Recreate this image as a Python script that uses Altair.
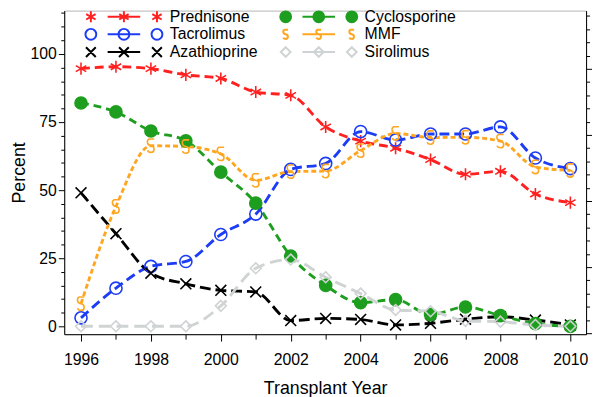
import altair as alt
import pandas as pd

# ---------------- data ----------------
years = list(range(1996, 2011))
prednisone   = [94.6, 95.3, 94.6, 92.3, 91.0, 86.0, 84.8, 73.2, 68.0, 65.4, 61.2, 55.8, 56.9, 48.6, 45.4]
tacrolimus   = [3.1, 14.0, 22.0, 23.8, 33.7, 41.2, 57.6, 59.8, 71.5, 68.4, 70.6, 70.6, 73.2, 61.8, 57.9]
azathioprine = [49.0, 34.0, 19.5, 15.6, 13.2, 12.6, 2.1, 2.9, 2.5, 0.5, 1.1, 2.6, 3.5, 2.3, 0.5]
cyclosporine = [82.0, 78.7, 71.7, 68.1, 56.6, 45.2, 25.8, 15.0, 8.7, 9.8, 4.3, 7.1, 3.9, 1.0, 0.0]
mmf          = [8.3, 44.0, 66.3, 66.0, 63.3, 53.6, 56.8, 57.0, 64.5, 70.8, 69.3, 69.4, 68.0, 58.5, 57.2]
sirolimus    = [0.0, 0.0, 0.0, 0.0, 7.5, 21.3, 24.5, 18.0, 12.0, 6.0, 5.5, 2.0, 1.7, 0.5, 0.0]

series = ["Prednisone", "Tacrolimus", "Azathioprine", "Cyclosporine", "MMF", "Sirolimus"]
values = {
    "Prednisone": prednisone, "Cyclosporine": cyclosporine, "Tacrolimus": tacrolimus,
    "MMF": mmf, "Azathioprine": azathioprine, "Sirolimus": sirolimus,
}
color_of = {"Prednisone": "#ff2020", "Tacrolimus": "#1c3cf5", "Azathioprine": "#000000",
            "Cyclosporine": "#1e9e1e", "MMF": "#ffa620", "Sirolimus": "#cfd3d3"}
dash_of = {"Prednisone": [9, 5], "Tacrolimus": [10, 5], "Azathioprine": [11, 5],
           "Cyclosporine": [8, 5], "MMF": [5, 3], "Sirolimus": [12, 6]}
colors = [color_of[s] for s in series]
fills = ["#1e9e1e" if s == "Cyclosporine" else "transparent" for s in series]
dashes = [dash_of[s] for s in series]

rows = []
for name in series:
    for yr, v in zip(years, values[name]):
        rows.append({"year": yr, "pct": v, "drug": name})
df = pd.DataFrame(rows)

# ---------------- marker shapes ----------------
def fmt(v):
    s = f"{v:.3f}".rstrip("0").rstrip(".")
    return s if s not in ("", "-0") else "0"

def tpath(cmds, s=1.0, dx=0.0, dy=0.0):
    out = []
    for c, pts in cmds:
        if c == "Z":
            out.append("Z")
            continue
        out.append(c + " ".join(f"{fmt(x*s+dx)},{fmt(y*s+dy)}" for x, y in pts))
    return "".join(out)

AST = [("M", [(0, -1)]), ("L", [(0, 1)]), ("M", [(-0.866, -0.5)]), ("L", [(0.866, 0.5)]),
       ("M", [(-0.866, 0.5)]), ("L", [(0.866, -0.5)])]
CROSS = [("M", [(-0.9, -0.9)]), ("L", [(0.9, 0.9)]), ("M", [(-0.9, 0.9)]), ("L", [(0.9, -0.9)])]
DIAM = [("M", [(0, -0.9)]), ("L", [(0.9, 0)]), ("L", [(0, 0.9)]), ("L", [(-0.9, 0)]), ("Z", [])]
SSH = [("M", [(0.55, -1.1)]), ("L", [(-0.2, -1.1)]),
       ("C", [(-0.75, -1.1), (-0.75, -0.1), (0, 0)]),
       ("C", [(0.7, 0.1), (0.7, 1.1), (0, 1.1)]),
       ("C", [(-0.3, 1.1), (-0.5, 0.95), (-0.55, 0.75)])]

def circ(r, cx=0.0, cy=0.0):
    return (f"M{fmt(cx-r)},{fmt(cy)}A{fmt(r)},{fmt(r)} 0 1,1 {fmt(cx+r)},{fmt(cy)}"
            f"A{fmt(r)},{fmt(r)} 0 1,1 {fmt(cx-r)},{fmt(cy)}Z")

def glyph(kind, s, dx):
    if kind == "circle":
        return circ(s, dx, 0)
    return tpath(kind, s, dx, 0)

marker_kind = {"Prednisone": AST, "Cyclosporine": "circle", "Tacrolimus": "circle",
               "MMF": SSH, "Azathioprine": CROSS, "Sirolimus": DIAM}

plot_shapes = []
legend_shapes = []
for name in series:
    k = marker_kind[name]
    plot_shapes.append("circle" if k == "circle" else tpath(k))
    ls = 0.85 if k is SSH else 1.1
    legend_shapes.append(glyph(k, ls, 0) + "M3.4,0L10,0" + glyph(k, ls, 6.7) + glyph(k, ls, 13.4))

FONT = "Liberation Sans, Arial, sans-serif"

xdom = [1995.52, 2010.45]
ydom = [-2.9, 115.9]

x_axis = alt.Axis(
    values=years, format="d",
    labelExpr="datum.value % 2 == 0 ? datum.label : ''",
    tickSize={"condition": {"test": "datum.value % 2 == 0", "value": 7}, "value": 5},
    grid=False, title="Transplant Year", labelPadding=11, titlePadding=12,
)
y_axis = alt.Axis(
    values=list(range(0, 116, 5)),
    labelExpr="datum.value % 25 == 0 ? datum.label : ''",
    tickSize={"condition": {"test": "datum.value % 25 == 0", "value": 6}, "value": 3.5},
    grid=False, title="Percent", labelPadding=2, titlePadding=2,
)

xenc = alt.X("year:Q", scale=alt.Scale(domain=xdom, nice=False, zero=False), axis=x_axis)
yscale = alt.Scale(domain=ydom, nice=False, zero=False)

lines = alt.Chart(df).mark_line(strokeWidth=2.9, interpolate="monotone").encode(
    x=xenc,
    y=alt.Y("pct:Q", scale=yscale, axis=y_axis),
    color=alt.Color("drug:N", scale=alt.Scale(domain=series, range=colors), legend=None),
    strokeDash=alt.StrokeDash("drug:N", scale=alt.Scale(domain=series, range=dashes), legend=None),
    detail="drug:N",
)

points = alt.Chart(df).mark_point(filled=False, opacity=1, size=150, strokeWidth=1.6).encode(
    x=xenc,
    y=alt.Y("pct:Q", scale=yscale, axis=None),
    color=alt.Color("drug:N", scale=alt.Scale(domain=series, range=colors), legend=None),
    fill=alt.Fill("drug:N", scale=alt.Scale(domain=series, range=fills), legend=None),
    shape=alt.Shape("drug:N", scale=alt.Scale(domain=series, range=plot_shapes), legend=None),
)

leg = alt.Legend(
    title=None, orient="none", legendX=19, legendY=-2, columns=2,
    symbolSize=100, symbolStrokeWidth=2, labelFontSize=16, labelFont=FONT, labelColor="black",
    labelOffset=72, columnPadding=18.5, rowPadding=-4.6, padding=0, labelLimit=300,
)

legend_layer = alt.Chart(df).transform_filter("false").mark_point(
    filled=False, opacity=1, strokeWidth=2
).encode(
    color=alt.Color("drug:N", scale=alt.Scale(domain=series, range=colors), legend=leg),
    fill=alt.Fill("drug:N", scale=alt.Scale(domain=series, range=fills), legend=leg),
    shape=alt.Shape("drug:N", scale=alt.Scale(domain=series, range=legend_shapes), legend=leg),
)

right_vals = [round(i * 0.2, 1) for i in range(0, 25)]
right_df = pd.DataFrame({"r": [0.0]})
right_layer = alt.Chart(right_df).mark_point(opacity=0).encode(
    y=alt.Y("r:Q", scale=alt.Scale(domain=[-0.015, 4.88], nice=False, zero=False),
            axis=alt.Axis(orient="right", values=right_vals, labels=False, title=None, grid=False,
                          tickSize={"condition": {"test": "abs(datum.value - round(datum.value)) < 0.01",
                                                  "value": 6}, "value": 3.5})),
)

chart = alt.layer(lines, points, legend_layer, right_layer).resolve_scale(
    y="independent", color="independent", fill="independent", shape="independent",
    strokeDash="independent",
).properties(
    width=529, height=328,
    autosize=alt.AutoSizeParams(type="none"),
    padding={"left": 57, "top": 0, "right": 6, "bottom": 61},
).configure_view(
    stroke="#b5b5b5", strokeWidth=1,
).configure_axis(
    labelFont=FONT, titleFont=FONT, labelFontSize=16, titleFontSize=18,
    titleFontWeight="normal", labelColor="black", titleColor="black",
    tickColor="black", domainColor="black", domainWidth=1, tickWidth=1,
)

chart.save("out.html", embed_options={"renderer": "svg", "actions": False})
